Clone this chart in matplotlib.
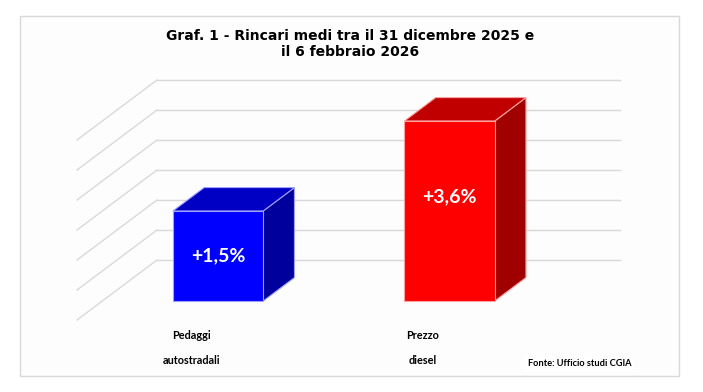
import matplotlib
matplotlib.use("Agg")
import matplotlib.pyplot as plt
from matplotlib.patches import Polygon, Rectangle
import numpy as np

# Data
categories = ["Pedaggi\n\nautostradali", "Prezzo\n\ndiesel"]
values = [1.5, 3.6]
value_labels = ["+1,5%", "+3,6%"]
floor_value = -0.6
grid_values = np.arange(-0.6, 3.61, 0.7)

front_colors = ["#0000ff", "#ff0000"]
top_colors = ["#0000c4", "#c00000"]
side_colors = ["#00009c", "#a00000"]
edge_colors = ["#9f9fff", "#ffa0a0"]

W, H = 703, 392
fig = plt.figure(figsize=(W / 100, H / 100), dpi=100)
fig.patch.set_facecolor("white")

# chart border
fig.patches.append(Rectangle((19.5 / W, (H - 376) / H), (679 - 19.5) / W, (376 - 16) / H,
                             transform=fig.transFigure, facecolor="#fdfdfd",
                             edgecolor="#d9d9d9", linewidth=1.0, zorder=-5))

# back wall axes (pixel box 157..620 x 80..260)
ax = fig.add_axes([157 / W, (H - 260) / H, 463 / W, 180 / H])
ax.set_xlim(-0.5, 1.5)
ax.set_ylim(-0.6, 3.6)
ax.axis("off")

# depth offset in pixels for full depth (toward viewer)
DX, DY = -80, -60
to_fig = fig.transFigure.inverted()


def pt(x, v, d):
    px, py = ax.transData.transform((x, v))
    return to_fig.transform((px + DX * d, py + DY * d))


def poly(pts, fc, ec, z):
    fig.patches.append(Polygon(pts, closed=True, facecolor=fc, edgecolor=ec,
                               linewidth=0.8, transform=fig.transFigure, zorder=z))


# gridlines: back wall + left wall diagonals
for g in grid_values:
    ax.plot([-0.5, 1.5], [g, g], color="#d9d9d9", lw=1.0, zorder=1, clip_on=False)
    a = pt(-0.5, g, 0)
    b = pt(-0.5, g, 1)
    fig.lines.append(plt.Line2D([a[0], b[0]], [a[1], b[1]], color="#d9d9d9", lw=1.0,
                                transform=fig.transFigure, zorder=1))

# 3D bars
bw = 0.39
d_front, d_back = 0.683, 0.293
label_frac = [0.5, 0.42]
for i, v in enumerate(values):
    x0, x1 = i - bw / 2, i + bw / 2
    front = [pt(x0, floor_value, d_front), pt(x1, floor_value, d_front),
             pt(x1, v, d_front), pt(x0, v, d_front)]
    top = [pt(x0, v, d_front), pt(x1, v, d_front), pt(x1, v, d_back), pt(x0, v, d_back)]
    side = [pt(x1, v, d_front), pt(x1, v, d_back),
            pt(x1, floor_value, d_back), pt(x1, floor_value, d_front)]
    poly(side, side_colors[i], edge_colors[i], 3)
    poly(top, top_colors[i], edge_colors[i], 3)
    poly(front, front_colors[i], edge_colors[i], 4)
    ly = v - label_frac[i] * (v - floor_value)
    lp = pt(i, ly, d_front)
    fig.text(lp[0], lp[1], value_labels[i], color="white", fontsize=14,
             fontweight="bold", family="Lato", ha="center", va="center", zorder=5)
    cp = pt(i, floor_value, d_front)
    fig.text(cp[0] - 27 / W, (H - 348) / H, categories[i], fontsize=7.8,
             fontweight="bold", family="Lato", ha="center", va="center",
             linespacing=1.12, zorder=5)

fig.text(350 / W, 1 - 44 / H, "Graf. 1 - Rincari medi tra il 31 dicembre 2025 e\nil 6 febbraio 2026",
         ha="center", va="center", fontsize=10, fontweight="bold",
         family="DejaVu Sans", linespacing=1.2)
fig.text(631 / W, 1 - 364 / H, "Fonte: Ufficio studi CGIA", ha="right", va="center",
         fontsize=6.7, fontweight="bold", family="Lato",
         bbox=dict(facecolor="white", edgecolor="none", pad=2))

fig.savefig("out.png", dpi=100)
